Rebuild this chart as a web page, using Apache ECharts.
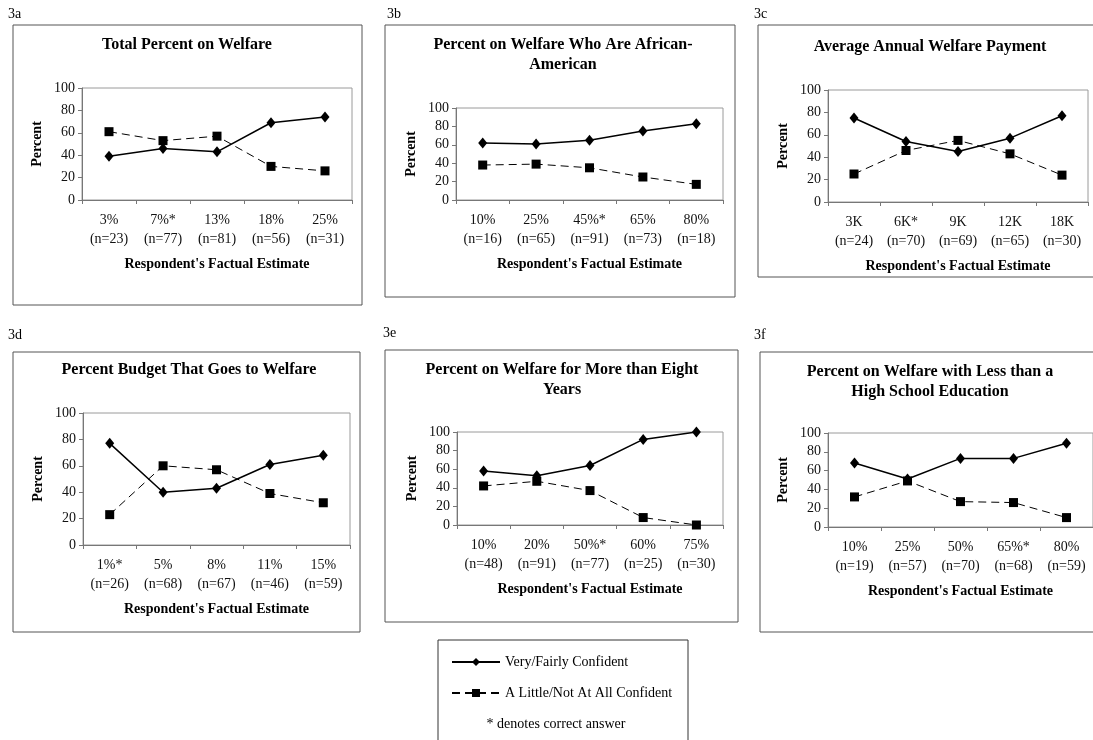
<!DOCTYPE html>
<html>
<head>
<meta charset="utf-8">
<script src="https://cdn.jsdelivr.net/npm/echarts@6/dist/echarts.min.js"></script>
<style>
html,body{margin:0;padding:0;background:#fff;}
#chart{width:1093px;height:740px;}
</style>
</head>
<body>
<div id="chart"></div>
<script>
// ---------- data ----------
const seriesNames = ['Very/Fairly Confident', 'A Little/Not At All Confident'];
const yTicks = [0, 20, 40, 60, 80, 100];

const title3a = 'Total Percent on Welfare';
const cat3a = ['3%', '7%*', '13%', '18%', '25%'];
const n3a = [23, 77, 81, 56, 31];
const very3a = [39, 46, 43, 69, 74];
const little3a = [61, 53, 57, 30, 26];

const title3b = 'Percent on Welfare Who Are African-\nAmerican';
const cat3b = ['10%', '25%', '45%*', '65%', '80%'];
const n3b = [16, 65, 91, 73, 18];
const very3b = [62, 61, 65, 75, 83];
const little3b = [38, 39, 35, 25, 17];

const title3c = 'Average Annual Welfare Payment';
const cat3c = ['3K', '6K*', '9K', '12K', '18K'];
const n3c = [24, 70, 69, 65, 30];
const very3c = [75, 54, 45, 57, 77];
const little3c = [25, 46, 55, 43, 24];

const title3d = 'Percent Budget That Goes to Welfare';
const cat3d = ['1%*', '5%', '8%', '11%', '15%'];
const n3d = [26, 68, 67, 46, 59];
const very3d = [77, 40, 43, 61, 68];
const little3d = [23, 60, 57, 39, 32];

const title3e = 'Percent on Welfare for More than Eight\nYears';
const cat3e = ['10%', '20%', '50%*', '60%', '75%'];
const n3e = [48, 91, 77, 25, 30];
const very3e = [58, 53, 64, 92, 100];
const little3e = [42, 47, 37, 8, 0];

const title3f = 'Percent on Welfare with Less than a\nHigh School Education';
const cat3f = ['10%', '25%', '50%', '65%*', '80%'];
const n3f = [19, 57, 70, 68, 59];
const very3f = [68, 51, 73, 73, 89];
const little3f = [32, 49, 27, 26, 10];

const panelLabels = ['3a', '3b', '3c', '3d', '3e', '3f'];
const xAxisTitle = "Respondent's Factual Estimate";
const yAxisTitle = 'Percent';
const noteText = '* denotes correct answer';

// ---------- layout ----------
const FONT = '"Liberation Serif", "Times New Roman", serif';
const panels = [
  {cat: cat3a, n: n3a, very: very3a, little: little3a, title: title3a,
   grid: {left: 82, top: 88, width: 270, height: 112}, box: [13, 25, 349, 280], tx: 187, ty: 45, lx: 8, ly: 14},
  {cat: cat3b, n: n3b, very: very3b, little: little3b, title: title3b,
   grid: {left: 456, top: 108, width: 267, height: 92}, box: [385, 25, 350, 272], tx: 563, ty: 55, lx: 387, ly: 14},
  {cat: cat3c, n: n3c, very: very3c, little: little3c, title: title3c,
   grid: {left: 828, top: 90, width: 260, height: 112}, box: [758, 25, 345, 252], tx: 930, ty: 47, lx: 754, ly: 14},
  {cat: cat3d, n: n3d, very: very3d, little: little3d, title: title3d,
   grid: {left: 83, top: 413, width: 267, height: 132}, box: [13, 352, 347, 280], tx: 189, ty: 370, lx: 8, ly: 335},
  {cat: cat3e, n: n3e, very: very3e, little: little3e, title: title3e,
   grid: {left: 457, top: 432, width: 266, height: 93}, box: [385, 350, 353, 272], tx: 562, ty: 380, lx: 383, ly: 333},
  {cat: cat3f, n: n3f, very: very3f, little: little3f, title: title3f,
   grid: {left: 828, top: 433, width: 265, height: 94}, box: [760, 352, 345, 280], tx: 930, ty: 382, lx: 754, ly: 335}
];

const grids = [], xAxes = [], yAxes = [], series = [], graphics = [];

panels.forEach((p, i) => {
  grids.push(Object.assign({show: true, borderColor: '#9a9a9a', borderWidth: 1, backgroundColor: 'transparent'}, p.grid));
  xAxes.push({
    type: 'category', gridIndex: i, boundaryGap: true,
    data: p.cat.map((c, k) => c + '\n(n=' + p.n[k] + ')'),
    axisLine: {lineStyle: {color: '#777', width: 1}},
    axisTick: {show: true, length: 4, lineStyle: {color: '#777'}},
    axisLabel: {fontFamily: FONT, fontSize: 14, color: '#111', lineHeight: 19, margin: 11, interval: 0},
    name: xAxisTitle, nameLocation: 'middle', nameGap: 57,
    nameTextStyle: {fontFamily: FONT, fontSize: 14, fontWeight: 'bold', color: '#000'}
  });
  yAxes.push({
    type: 'value', gridIndex: i, min: 0, max: 100, interval: 20,
    axisLine: {show: true, lineStyle: {color: '#777', width: 1}},
    axisTick: {show: true, length: 4, lineStyle: {color: '#777'}},
    splitLine: {show: false},
    axisLabel: {fontFamily: FONT, fontSize: 14, color: '#111', margin: 7,
      formatter: v => (yTicks.indexOf(v) >= 0 ? String(v) : '')},
    name: yAxisTitle, nameLocation: 'middle', nameGap: 38, nameRotate: 90,
    nameTextStyle: {fontFamily: FONT, fontSize: 14, fontWeight: 'bold', color: '#000'}
  });
  series.push({
    name: seriesNames[0], type: 'line', xAxisIndex: i, yAxisIndex: i, data: p.very,
    symbol: 'diamond', symbolSize: [9, 11],
    lineStyle: {color: '#000', width: 1.5, type: 'solid'},
    itemStyle: {color: '#000'}, z: 3
  });
  series.push({
    name: seriesNames[1], type: 'line', xAxisIndex: i, yAxisIndex: i, data: p.little,
    symbol: 'rect', symbolSize: 9,
    lineStyle: {color: '#000', width: 1, type: [8, 5]},
    itemStyle: {color: '#000'}, z: 2
  });
  graphics.push({
    type: 'rect', shape: {x: p.box[0], y: p.box[1], width: p.box[2], height: p.box[3]},
    style: {fill: 'none', stroke: '#555', lineWidth: 1}, z: -1
  });
  graphics.push({
    type: 'text', x: p.tx, y: p.ty,
    style: {text: p.title, fontFamily: FONT, fontSize: 16, fontWeight: 'bold', fill: '#000',
      align: 'center', verticalAlign: 'middle', lineHeight: 20}
  });
  graphics.push({
    type: 'text', x: p.lx, y: p.ly,
    style: {text: panelLabels[i], fontFamily: FONT, fontSize: 14, fill: '#000',
      align: 'left', verticalAlign: 'middle'}
  });
});

// legend box + note
graphics.push({
  type: 'rect', shape: {x: 438, y: 640, width: 250, height: 110},
  style: {fill: 'none', stroke: '#333', lineWidth: 1}
});
graphics.push({
  type: 'text', x: 556, y: 724,
  style: {text: noteText, fontFamily: FONT, fontSize: 14, fill: '#000', align: 'center', verticalAlign: 'middle'}
});

const chart = echarts.init(document.getElementById('chart'), null, {renderer: 'canvas'});
chart.setOption({
  animation: false,
  backgroundColor: '#fff',
  grid: grids,
  xAxis: xAxes,
  yAxis: yAxes,
  series: series,
  legend: {
    orient: 'vertical', left: 446, top: 650,
    itemWidth: 48, itemHeight: 10, itemGap: 17,
    selectedMode: false,
    textStyle: {fontFamily: FONT, fontSize: 14, color: '#000'},
    data: seriesNames
  },
  graphic: graphics
});
</script>
</body>
</html>
